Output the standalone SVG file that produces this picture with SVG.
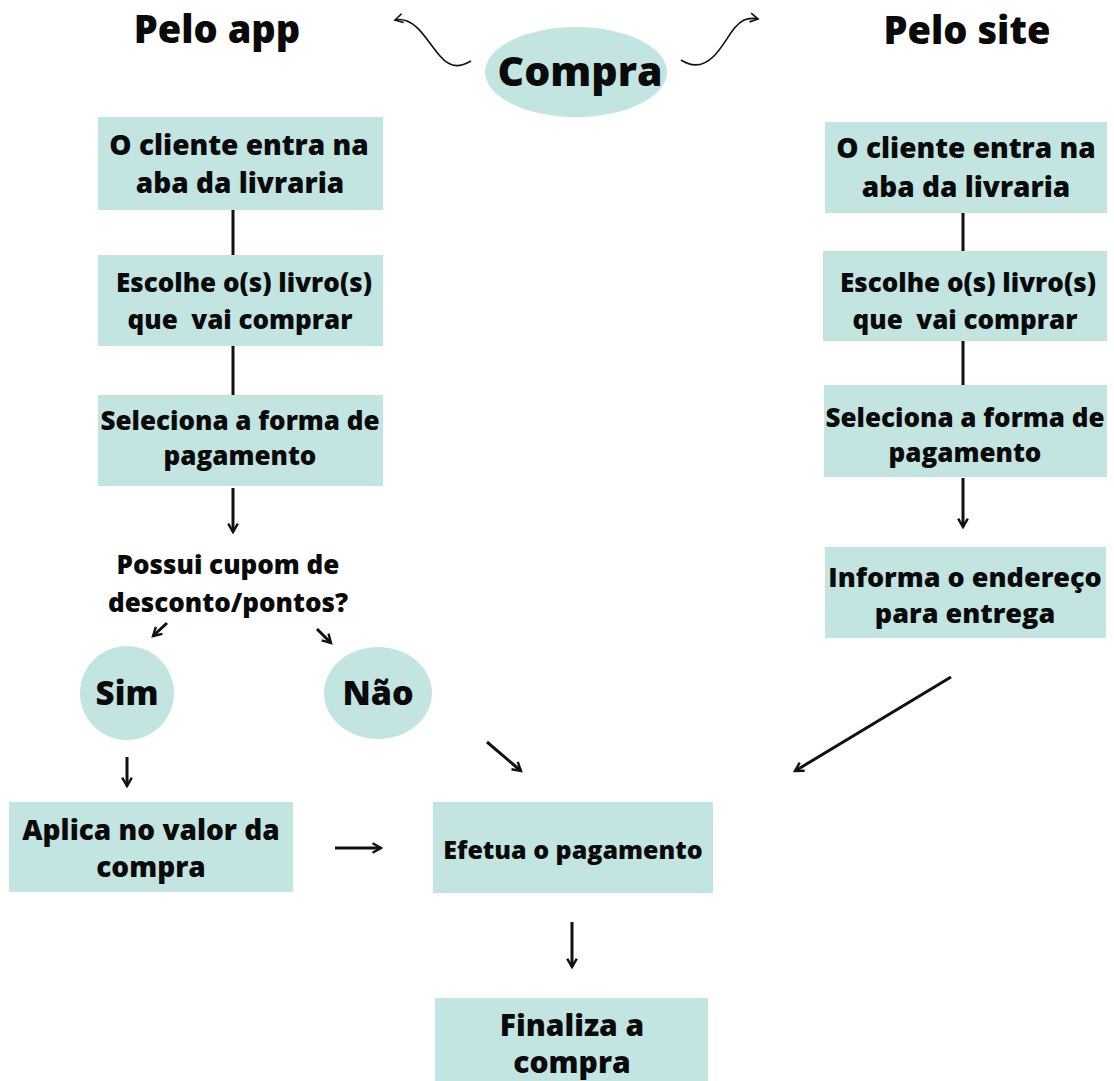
<svg xmlns="http://www.w3.org/2000/svg" width="1114" height="1081" viewBox="0 0 1114 1081">
<style>
text{font-family:"Open Sans","Noto Sans","DejaVu Sans",sans-serif;font-weight:800;fill:#0a0a0a;text-anchor:middle}
.box{fill:#c2e5e1}
.ln{stroke:#111;stroke-width:3;fill:none}
.arr{stroke:#111;stroke-width:3;fill:none;marker-end:url(#ah)}
.cur{stroke:#111;stroke-width:1.6;fill:none;marker-end:url(#ah2)}
</style>
<defs>
<marker id="ah" viewBox="0 0 10 10" refX="8" refY="5" markerWidth="4" markerHeight="4" orient="auto" markerUnits="strokeWidth">
<path d="M1,1 L8,5 L1,9" fill="none" stroke="#111" stroke-width="2"/>
</marker>
<marker id="ah2" viewBox="0 0 10 10" refX="8" refY="5" markerWidth="7" markerHeight="7" orient="auto" markerUnits="strokeWidth">
<path d="M1,1 L8,5 L1,9" fill="none" stroke="#111" stroke-width="1.5"/>
</marker>
</defs>

<g id="title-app"><text x="217" y="43" font-size="38">Pelo app</text></g>
<g id="title-site"><text x="967" y="44" font-size="38">Pelo site</text></g>

<g id="compra"><ellipse cx="576" cy="72" rx="91" ry="45" class="box"/><text x="580" y="86" font-size="41">Compra</text></g>

<g id="app1"><rect x="98" y="117" width="285" height="93" class="box"/><text x="239" y="155" font-size="28">O cliente entra na</text><text x="240" y="193" font-size="28">aba da livraria</text></g>
<g id="app2"><rect x="98" y="255" width="285" height="91" class="box"/><text x="244" y="292" font-size="26">Escolhe o(s) livro(s)</text><text x="240" y="329" font-size="26" xml:space="preserve">que  vai comprar</text></g>
<g id="app3"><rect x="98" y="395" width="285" height="91" class="box"/><text x="240" y="430" font-size="26">Seleciona a forma de</text><text x="240" y="465" font-size="26">pagamento</text></g>

<g id="question"><text x="228" y="574" font-size="26">Possui cupom de</text><text x="228" y="612" font-size="26">desconto/pontos?</text></g>

<g id="sim"><circle cx="127" cy="693" r="47" class="box"/><text x="127" y="705" font-size="33">Sim</text></g>
<g id="nao"><ellipse cx="378" cy="693" rx="54" ry="46" class="box"/><text x="378" y="705" font-size="34">Não</text></g>

<g id="aplica"><rect x="9" y="802" width="284" height="90" class="box"/><text x="151" y="840" font-size="28">Aplica no valor da</text><text x="151" y="877" font-size="28">compra</text></g>

<g id="efetua"><rect x="433" y="802" width="280" height="91" class="box"/><text x="573" y="859" font-size="25">Efetua o pagamento</text></g>

<g id="finaliza"><rect x="435" y="998" width="273" height="83" class="box"/><text x="572" y="1036" font-size="30">Finaliza a</text><text x="572" y="1073" font-size="30">compra</text></g>

<g id="site1"><rect x="825" y="122" width="282" height="91" class="box"/><text x="966" y="158" font-size="28">O cliente entra na</text><text x="966" y="197" font-size="28">aba da livraria</text></g>
<g id="site2"><rect x="823" y="251" width="284" height="90" class="box"/><text x="968" y="292" font-size="26">Escolhe o(s) livro(s)</text><text x="965" y="329" font-size="26" xml:space="preserve">que  vai comprar</text></g>
<g id="site3"><rect x="824" y="385" width="283" height="92" class="box"/><text x="965" y="427" font-size="26">Seleciona a forma de</text><text x="965" y="462" font-size="26">pagamento</text></g>
<g id="site4"><rect x="825" y="547" width="281" height="91" class="box"/><text x="965" y="587" font-size="27">Informa o endereço</text><text x="965" y="623" font-size="27">para entrega</text></g>

<g id="connectors">
<path class="cur" d="M471,61 C462,66 452,70 440,56 C428,42 420,26 407,21 C402,19 399,19 395,20"/>
<path class="cur" d="M681,60 C690,66 702,68 714,56 C726,44 732,26 744,20 C749,18 753,18 758,19"/>
<line class="ln" x1="233" y1="210" x2="233" y2="255"/>
<line class="ln" x1="233" y1="346" x2="233" y2="395"/>
<line class="arr" x1="233" y1="488" x2="233" y2="532"/>
<line class="arr" x1="167" y1="623" x2="153" y2="636"/>
<line class="arr" x1="317" y1="629" x2="331" y2="643"/>
<line class="arr" x1="127" y1="757" x2="127" y2="786"/>
<line class="arr" x1="335" y1="848" x2="381" y2="848"/>
<line class="arr" x1="487" y1="742" x2="521" y2="771"/>
<line class="arr" x1="951" y1="677" x2="795" y2="771"/>
<line class="arr" x1="572" y1="922" x2="572" y2="967"/>
<line class="ln" x1="963" y1="213" x2="963" y2="251"/>
<line class="ln" x1="963" y1="341" x2="963" y2="385"/>
<line class="arr" x1="963" y1="478" x2="963" y2="527"/>
</g>
</svg>
